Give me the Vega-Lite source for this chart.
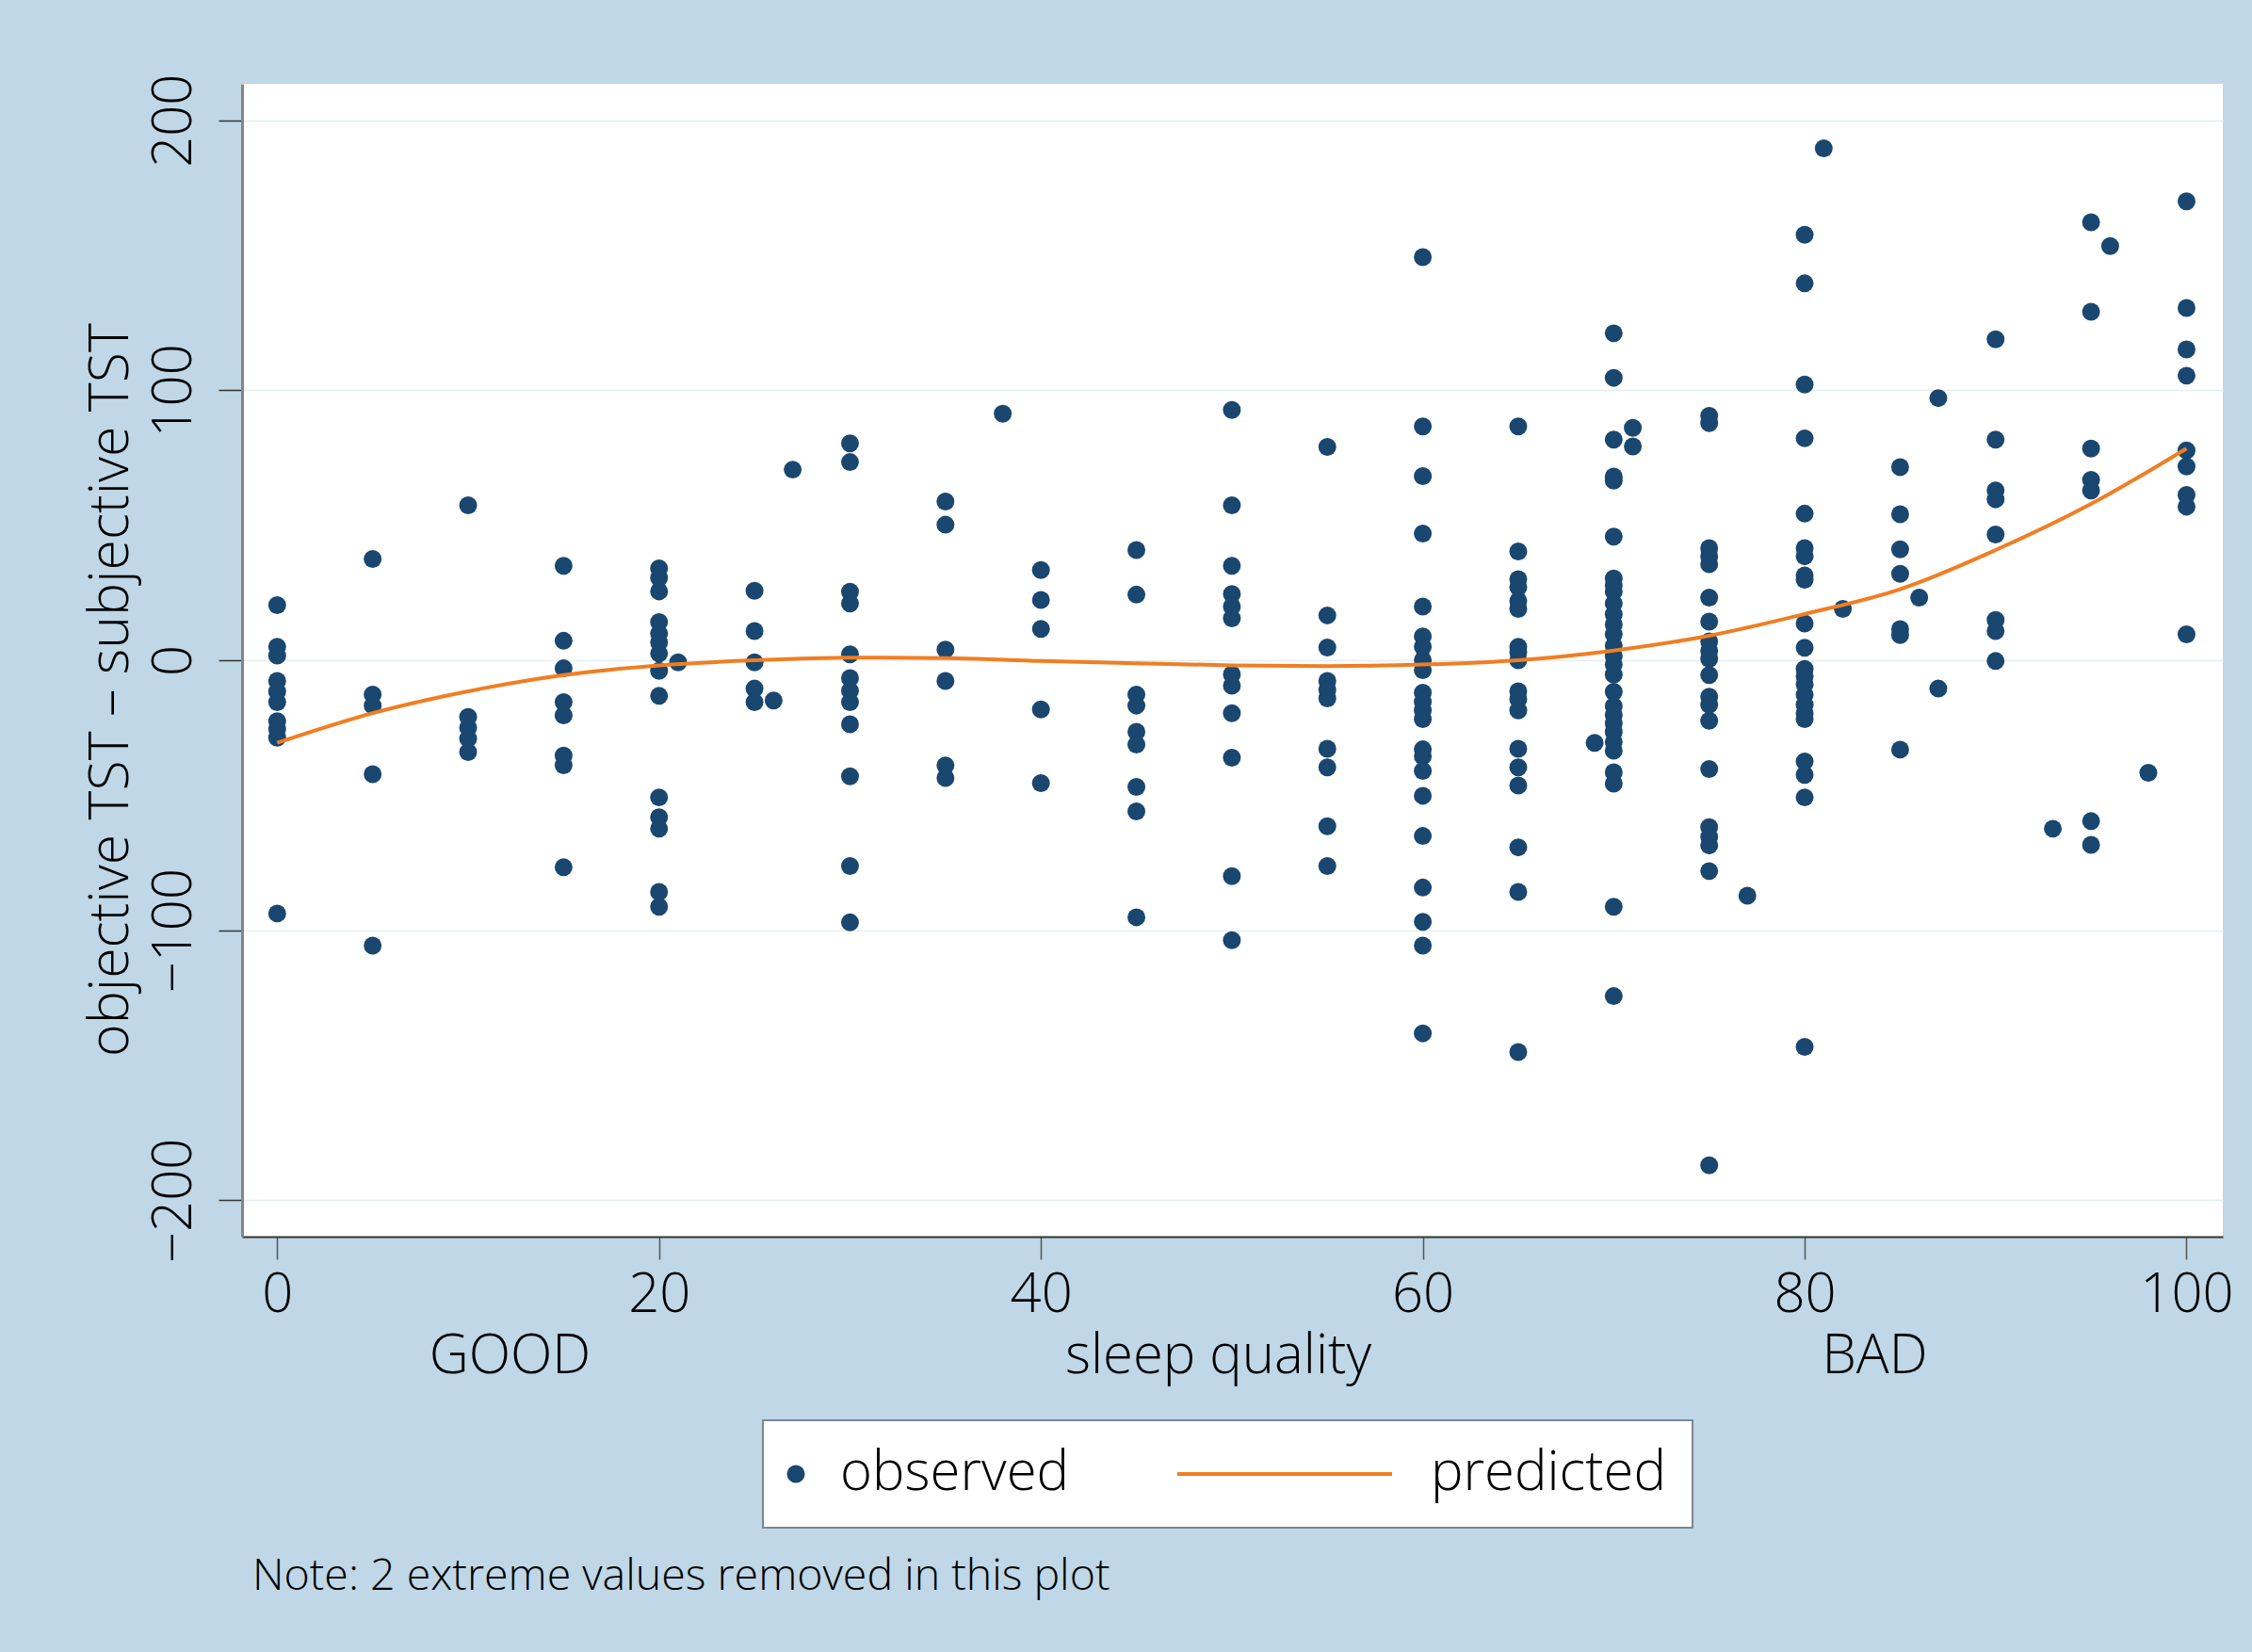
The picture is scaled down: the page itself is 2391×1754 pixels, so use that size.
{
"$schema":"https://vega.github.io/schema/vega-lite/v6.json",
"autosize":{"type":"none"},
"padding":{"left":257,"top":89,"right":31,"bottom":441},
"width":2103,"height":1224,
"background":"#bfd7e6",
"config":{"view":{"stroke":null,"fill":"white"},"font":"Open Sans"},
"title":{"text":"Note: 2 extreme values removed in this plot","orient":"bottom","anchor":"start","frame":"group","fontSize":46.5,"fontWeight":300,"font":"Open Sans","color":"black","offset":28,"dx":11},
"datasets":{
"obs":[
{"q":0,"d":20.4,"s":"observed"},{"q":0,"d":5,"s":"observed"},{"q":0,"d":1.7,"s":"observed"},{"q":0,"d":-7.7,"s":"observed"},{"q":0,"d":-11.6,"s":"observed"},{"q":0,"d":-15.5,"s":"observed"},{"q":0,"d":-22.6,"s":"observed"},{"q":0,"d":-25.5,"s":"observed"},{"q":0,"d":-28.7,"s":"observed"},{"q":0,"d":-93.8,"s":"observed"},
{"q":5,"d":37.5,"s":"observed"},{"q":5,"d":-12.7,"s":"observed"},{"q":5,"d":-16.8,"s":"observed"},{"q":5,"d":-42.2,"s":"observed"},{"q":5,"d":-105.7,"s":"observed"},
{"q":10,"d":57.4,"s":"observed"},{"q":10,"d":-21,"s":"observed"},{"q":10,"d":-25,"s":"observed"},{"q":10,"d":-29,"s":"observed"},{"q":10,"d":-34,"s":"observed"},
{"q":15,"d":35,"s":"observed"},{"q":15,"d":7.2,"s":"observed"},{"q":15,"d":-3,"s":"observed"},{"q":15,"d":-15.5,"s":"observed"},{"q":15,"d":-20.4,"s":"observed"},{"q":15,"d":-35.3,"s":"observed"},{"q":15,"d":-38.9,"s":"observed"},{"q":15,"d":-76.7,"s":"observed"},
{"q":20,"d":34,"s":"observed"},{"q":20,"d":30.5,"s":"observed"},{"q":20,"d":25.5,"s":"observed"},{"q":20,"d":14.1,"s":"observed"},{"q":20,"d":9.9,"s":"observed"},{"q":20,"d":6.6,"s":"observed"},{"q":20,"d":2.5,"s":"observed"},{"q":20,"d":-3.9,"s":"observed"},{"q":20,"d":-13.2,"s":"observed"},{"q":20,"d":-50.8,"s":"observed"},{"q":20,"d":-58.2,"s":"observed"},{"q":20,"d":-62.4,"s":"observed"},{"q":20,"d":-85.8,"s":"observed"},{"q":20,"d":-91.3,"s":"observed"},
{"q":21,"d":-0.8,"s":"observed"},
{"q":25,"d":25.7,"s":"observed"},{"q":25,"d":10.8,"s":"observed"},{"q":25,"d":-0.8,"s":"observed"},{"q":25,"d":-10.5,"s":"observed"},{"q":25,"d":-15.5,"s":"observed"},
{"q":26,"d":-14.9,"s":"observed"},{"q":27,"d":70.6,"s":"observed"},
{"q":30,"d":80.3,"s":"observed"},{"q":30,"d":73.4,"s":"observed"},{"q":30,"d":25.4,"s":"observed"},{"q":30,"d":21,"s":"observed"},{"q":30,"d":2.2,"s":"observed"},{"q":30,"d":-6.6,"s":"observed"},{"q":30,"d":-11.3,"s":"observed"},{"q":30,"d":-15.5,"s":"observed"},{"q":30,"d":-23.7,"s":"observed"},{"q":30,"d":-43,"s":"observed"},{"q":30,"d":-76.2,"s":"observed"},{"q":30,"d":-97.1,"s":"observed"},
{"q":35,"d":58.8,"s":"observed"},{"q":35,"d":50.2,"s":"observed"},{"q":35,"d":3.9,"s":"observed"},{"q":35,"d":-7.7,"s":"observed"},{"q":35,"d":-39,"s":"observed"},{"q":35,"d":-43.6,"s":"observed"},
{"q":38,"d":91.3,"s":"observed"},
{"q":40,"d":33.4,"s":"observed"},{"q":40,"d":22.3,"s":"observed"},{"q":40,"d":11.6,"s":"observed"},{"q":40,"d":-18.2,"s":"observed"},{"q":40,"d":-45.5,"s":"observed"},
{"q":45,"d":40.8,"s":"observed"},{"q":45,"d":24.3,"s":"observed"},{"q":45,"d":-12.7,"s":"observed"},{"q":45,"d":-16.8,"s":"observed"},{"q":45,"d":-26.5,"s":"observed"},{"q":45,"d":-31.2,"s":"observed"},{"q":45,"d":-46.9,"s":"observed"},{"q":45,"d":-56,"s":"observed"},{"q":45,"d":-95.2,"s":"observed"},
{"q":50,"d":92.7,"s":"observed"},{"q":50,"d":57.4,"s":"observed"},{"q":50,"d":35,"s":"observed"},{"q":50,"d":24.5,"s":"observed"},{"q":50,"d":19.9,"s":"observed"},{"q":50,"d":15.5,"s":"observed"},{"q":50,"d":-5.2,"s":"observed"},{"q":50,"d":-9.4,"s":"observed"},{"q":50,"d":-19.6,"s":"observed"},{"q":50,"d":-36.1,"s":"observed"},{"q":50,"d":-80,"s":"observed"},{"q":50,"d":-103.7,"s":"observed"},
{"q":55,"d":79,"s":"observed"},{"q":55,"d":16.6,"s":"observed"},{"q":55,"d":4.7,"s":"observed"},{"q":55,"d":-7.7,"s":"observed"},{"q":55,"d":-11,"s":"observed"},{"q":55,"d":-14.1,"s":"observed"},{"q":55,"d":-32.8,"s":"observed"},{"q":55,"d":-39.7,"s":"observed"},{"q":55,"d":-61.5,"s":"observed"},{"q":55,"d":-76.2,"s":"observed"},
{"q":60,"d":149.3,"s":"observed"},{"q":60,"d":86.6,"s":"observed"},{"q":60,"d":68.2,"s":"observed"},{"q":60,"d":46.9,"s":"observed"},{"q":60,"d":19.9,"s":"observed"},{"q":60,"d":8.8,"s":"observed"},{"q":60,"d":5,"s":"observed"},{"q":60,"d":0,"s":"observed"},{"q":60,"d":-3.7,"s":"observed"},{"q":60,"d":-12,"s":"observed"},{"q":60,"d":-15.4,"s":"observed"},{"q":60,"d":-18.6,"s":"observed"},{"q":60,"d":-21.8,"s":"observed"},{"q":60,"d":-33,"s":"observed"},{"q":60,"d":-35.6,"s":"observed"},{"q":60,"d":-41,"s":"observed"},{"q":60,"d":-50.2,"s":"observed"},{"q":60,"d":-65.1,"s":"observed"},{"q":60,"d":-84.2,"s":"observed"},{"q":60,"d":-96.9,"s":"observed"},{"q":60,"d":-105.7,"s":"observed"},{"q":60,"d":-138.2,"s":"observed"},
{"q":65,"d":86.6,"s":"observed"},{"q":65,"d":40.3,"s":"observed"},{"q":65,"d":30,"s":"observed"},{"q":65,"d":27,"s":"observed"},{"q":65,"d":22,"s":"observed"},{"q":65,"d":19,"s":"observed"},{"q":65,"d":5,"s":"observed"},{"q":65,"d":3,"s":"observed"},{"q":65,"d":0,"s":"observed"},{"q":65,"d":-11.5,"s":"observed"},{"q":65,"d":-14.5,"s":"observed"},{"q":65,"d":-18.6,"s":"observed"},{"q":65,"d":-32.8,"s":"observed"},{"q":65,"d":-39.7,"s":"observed"},{"q":65,"d":-46.4,"s":"observed"},{"q":65,"d":-69.3,"s":"observed"},{"q":65,"d":-85.8,"s":"observed"},{"q":65,"d":-145.1,"s":"observed"},
{"q":69,"d":-30.6,"s":"observed"},
{"q":70,"d":121.1,"s":"observed"},{"q":70,"d":104.6,"s":"observed"},{"q":70,"d":81.7,"s":"observed"},{"q":70,"d":68,"s":"observed"},{"q":70,"d":66.5,"s":"observed"},{"q":70,"d":45.8,"s":"observed"},{"q":70,"d":30.3,"s":"observed"},{"q":70,"d":27.7,"s":"observed"},{"q":70,"d":25.5,"s":"observed"},{"q":70,"d":21,"s":"observed"},{"q":70,"d":17,"s":"observed"},{"q":70,"d":13.3,"s":"observed"},{"q":70,"d":9.6,"s":"observed"},{"q":70,"d":5.3,"s":"observed"},{"q":70,"d":1.6,"s":"observed"},{"q":70,"d":-1.6,"s":"observed"},{"q":70,"d":-5.3,"s":"observed"},{"q":70,"d":-11.7,"s":"observed"},{"q":70,"d":-17,"s":"observed"},{"q":70,"d":-20.2,"s":"observed"},{"q":70,"d":-23.4,"s":"observed"},{"q":70,"d":-26.6,"s":"observed"},{"q":70,"d":-30.3,"s":"observed"},{"q":70,"d":-33.5,"s":"observed"},{"q":70,"d":-41.5,"s":"observed"},{"q":70,"d":-45.7,"s":"observed"},{"q":70,"d":-91.3,"s":"observed"},{"q":70,"d":-124.4,"s":"observed"},
{"q":71,"d":86.1,"s":"observed"},{"q":71,"d":79.2,"s":"observed"},
{"q":75,"d":90.5,"s":"observed"},{"q":75,"d":87.8,"s":"observed"},{"q":75,"d":41.5,"s":"observed"},{"q":75,"d":38.5,"s":"observed"},{"q":75,"d":35.6,"s":"observed"},{"q":75,"d":23.2,"s":"observed"},{"q":75,"d":14.3,"s":"observed"},{"q":75,"d":7,"s":"observed"},{"q":75,"d":3.5,"s":"observed"},{"q":75,"d":0.5,"s":"observed"},{"q":75,"d":-5.5,"s":"observed"},{"q":75,"d":-13.5,"s":"observed"},{"q":75,"d":-16.5,"s":"observed"},{"q":75,"d":-22.4,"s":"observed"},{"q":75,"d":-40.3,"s":"observed"},{"q":75,"d":-61.8,"s":"observed"},{"q":75,"d":-65.4,"s":"observed"},{"q":75,"d":-68.6,"s":"observed"},{"q":75,"d":-78.1,"s":"observed"},{"q":75,"d":-187.1,"s":"observed"},
{"q":77,"d":-87.2,"s":"observed"},
{"q":80,"d":157.6,"s":"observed"},{"q":80,"d":139.6,"s":"observed"},{"q":80,"d":102.1,"s":"observed"},{"q":80,"d":82.2,"s":"observed"},{"q":80,"d":54.3,"s":"observed"},{"q":80,"d":41.5,"s":"observed"},{"q":80,"d":38.5,"s":"observed"},{"q":80,"d":31.4,"s":"observed"},{"q":80,"d":29.8,"s":"observed"},{"q":80,"d":13.6,"s":"observed"},{"q":80,"d":4.6,"s":"observed"},{"q":80,"d":-3.2,"s":"observed"},{"q":80,"d":-5.9,"s":"observed"},{"q":80,"d":-9,"s":"observed"},{"q":80,"d":-12.8,"s":"observed"},{"q":80,"d":-16.5,"s":"observed"},{"q":80,"d":-19.7,"s":"observed"},{"q":80,"d":-21.8,"s":"observed"},{"q":80,"d":-37.5,"s":"observed"},{"q":80,"d":-42.5,"s":"observed"},{"q":80,"d":-50.8,"s":"observed"},{"q":80,"d":-143.2,"s":"observed"},
{"q":81,"d":189.6,"s":"observed"},{"q":82,"d":19,"s":"observed"},
{"q":85,"d":71.5,"s":"observed"},{"q":85,"d":54.1,"s":"observed"},{"q":85,"d":41.1,"s":"observed"},{"q":85,"d":32,"s":"observed"},{"q":85,"d":11.5,"s":"observed"},{"q":85,"d":9.3,"s":"observed"},{"q":85,"d":-33.1,"s":"observed"},
{"q":86,"d":23.2,"s":"observed"},{"q":87,"d":97.1,"s":"observed"},{"q":87,"d":-10.5,"s":"observed"},
{"q":90,"d":118.9,"s":"observed"},{"q":90,"d":81.7,"s":"observed"},{"q":90,"d":62.9,"s":"observed"},{"q":90,"d":59.6,"s":"observed"},{"q":90,"d":46.6,"s":"observed"},{"q":90,"d":14.9,"s":"observed"},{"q":90,"d":10.8,"s":"observed"},{"q":90,"d":-0.3,"s":"observed"},
{"q":93,"d":-62.4,"s":"observed"},
{"q":95,"d":162.2,"s":"observed"},{"q":95,"d":129.1,"s":"observed"},{"q":95,"d":78.4,"s":"observed"},{"q":95,"d":66.8,"s":"observed"},{"q":95,"d":62.9,"s":"observed"},{"q":95,"d":-59.6,"s":"observed"},{"q":95,"d":-68.4,"s":"observed"},
{"q":96,"d":153.4,"s":"observed"},{"q":98,"d":-41.7,"s":"observed"},
{"q":100,"d":170,"s":"observed"},{"q":100,"d":130.5,"s":"observed"},{"q":100,"d":115.1,"s":"observed"},{"q":100,"d":105.4,"s":"observed"},{"q":100,"d":77.7,"s":"observed"},{"q":100,"d":71.8,"s":"observed"},{"q":100,"d":61.2,"s":"observed"},{"q":100,"d":56.9,"s":"observed"},{"q":100,"d":9.6,"s":"observed"}
],
"pred":[
{"q":0,"d":-30.6,"s":"predicted"},{"q":5,"d":-19.6,"s":"predicted"},{"q":10,"d":-11.5,"s":"predicted"},{"q":15,"d":-5.5,"s":"predicted"},{"q":20,"d":-1.9,"s":"predicted"},{"q":25,"d":0,"s":"predicted"},{"q":30,"d":1,"s":"predicted"},{"q":35,"d":0.8,"s":"predicted"},{"q":40,"d":-0.3,"s":"predicted"},{"q":45,"d":-1.1,"s":"predicted"},{"q":50,"d":-1.9,"s":"predicted"},{"q":55,"d":-2.2,"s":"predicted"},{"q":60,"d":-1.6,"s":"predicted"},{"q":65,"d":0,"s":"predicted"},{"q":70,"d":3.6,"s":"predicted"},{"q":75,"d":9.1,"s":"predicted"},{"q":80,"d":17.1,"s":"predicted"},{"q":85,"d":26.3,"s":"predicted"},{"q":90,"d":40.8,"s":"predicted"},{"q":95,"d":57.9,"s":"predicted"},{"q":100,"d":78.4,"s":"predicted"}
]},
"encoding":{
"y":{"field":"d","type":"quantitative","scale":{"domain":[-213.5,213.5],"nice":false,"zero":false},
 "axis":{"values":[-200,-100,0,100,200],"grid":true,"gridColor":"#e4edf0","gridWidth":1.5,"tickSize":25,"tickColor":"#333333","tickWidth":1.5,"domainColor":"#858585","domainWidth":3,
 "labelFont":"Open Sans","labelFontWeight":300,"labelFontSize":58,"labelColor":"black","labelAngle":-90,"labelAlign":"center","labelBaseline":"alphabetic","labelPadding":30,"labelFlush":false,
 "title":"objective TST \u2013 subjective TST","titleFont":"Open Sans","titleFontWeight":300,"titleFontSize":59,"titleColor":"black","titleAngle":-90,"titleAlign":"center","titleBaseline":"alphabetic","titleX":-122,"titleY":643}},
"color":{"field":"s","type":"nominal","scale":{"domain":["observed","predicted"],"range":["#1a476f","#f07e22"]},
 "legend":{"title":null,"orient":"none","legendX":553,"legendY":1419,"direction":"horizontal","fillColor":"white","strokeColor":"#7d8790","padding":28,
  "labelFont":"Open Sans","labelFontWeight":300,"labelFontSize":58,"labelColor":"black","labelOffset":18,"symbolOffset":-22,"labelLimit":800,"columnPadding":106,"symbolSize":360,
  "encode":{"legend":{"update":{"strokeWidth":{"value":2}}},"symbols":{"update":{"shape":{"scale":"shape","field":"value"},"fill":{"scale":"color","field":"value"},"stroke":{"scale":"color","field":"value"},"strokeWidth":{"signal":"datum.value === 'predicted' ? 4 : 0"},"size":{"value":360},"opacity":{"value":1}}}}}}
},
"resolve":{"axis":{"x":"independent"}},
"layer":[
{"data":{"name":"obs"},"mark":{"type":"point","filled":true,"size":360,"opacity":1},
 "encoding":{
  "x":{"field":"q","type":"quantitative","scale":{"domain":[-1.84,101.9],"nice":false,"zero":false},
   "axis":{"orient":"bottom","values":[0,20,40,60,80,100],"grid":false,"tickSize":24,"tickColor":"#555555","tickWidth":1.5,"domainColor":"#333333","domainWidth":2,
   "labelFont":"Open Sans","labelFontWeight":300,"labelFontSize":58,"labelColor":"black","labelBaseline":"alphabetic","labelPadding":55,"labelFlush":false,
   "title":"sleep quality","titleFont":"Open Sans","titleFontWeight":300,"titleFontSize":58,"titleColor":"black","titleAlign":"center","titleAnchor":"start","titleBaseline":"alphabetic","titleX":1036,"titleY":144}},
  "shape":{"field":"s","type":"nominal","scale":{"domain":["observed","predicted"],"range":["circle","M -23.4 0 L 0.63 0"]},"legend":null}}},
{"data":{"name":"pred"},"mark":{"type":"line","strokeWidth":4,"interpolate":"monotone"},
 "encoding":{
  "x":{"field":"q","type":"quantitative","scale":{"domain":[-1.84,101.9],"nice":false,"zero":false},
   "axis":{"orient":"bottom","values":[12.17,83.65],"labelExpr":"datum.value < 50 ? 'GOOD' : 'BAD'","ticks":false,"tickSize":0,"domain":false,"grid":false,"title":null,
   "labelFont":"Open Sans","labelFontWeight":300,"labelFontSize":58,"labelColor":"black","labelBaseline":"alphabetic","labelPadding":144,"labelFlush":false,"labelOverlap":false}}}}
]
}
